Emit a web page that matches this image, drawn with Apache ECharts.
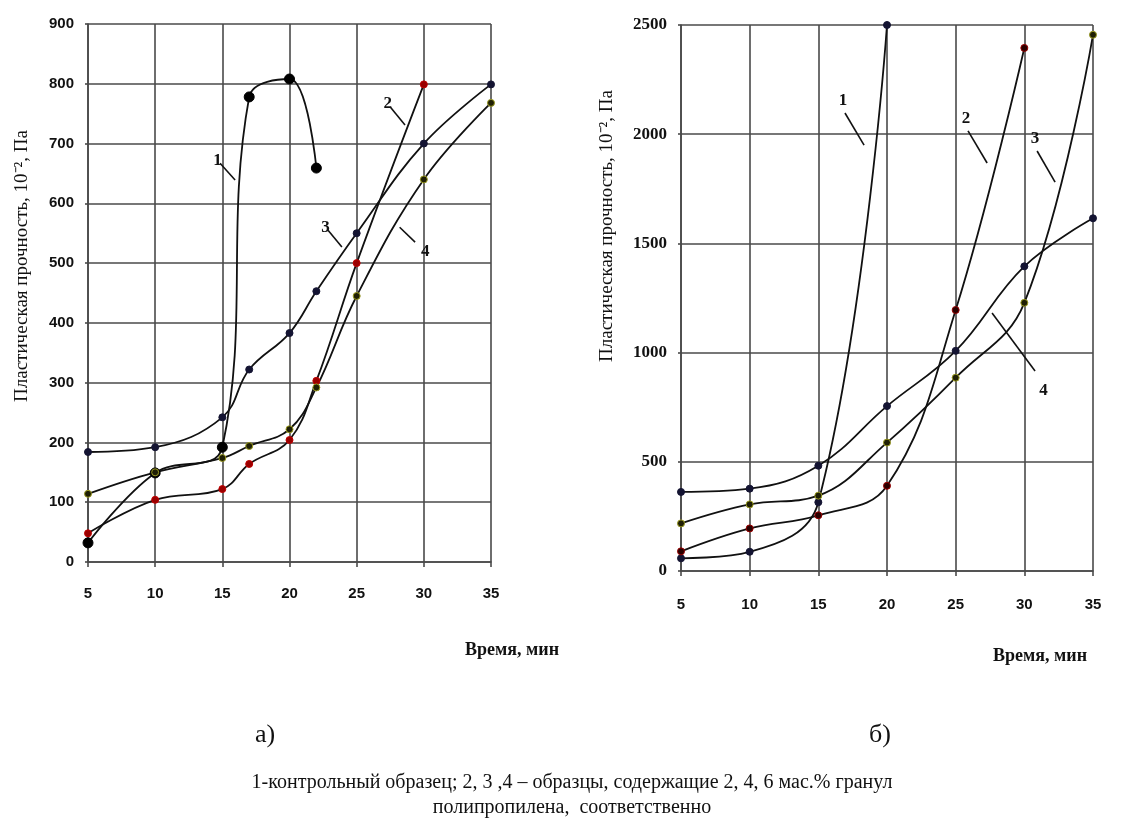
<!DOCTYPE html>
<html>
<head>
<meta charset="utf-8">
<script src="https://cdn.jsdelivr.net/npm/echarts@6/dist/echarts.min.js"></script>
<style>
  html, body { margin: 0; padding: 0; background: #fff; }
  #chart { width: 1144px; height: 827px; }
</style>
</head>
<body>
<div id="chart"></div>
<script>
// время, мин
const xTicks = [5, 10, 15, 20, 25, 30, 35];

// а) — левый график
const timeA1 = [5, 10, 15, 17, 20, 22];
const valsA1 = [32, 149, 192, 778, 808, 659];
const timeA = [5, 10, 15, 17, 20, 22, 25, 30, 35];
const valsA2 = [48, 104, 122, 164, 204, 303, 500, 799];
const valsA3 = [184, 192, 242, 322, 383, 453, 550, 700, 799];
const valsA4 = [114, 150, 174, 194, 222, 292, 445, 640, 768];

// б) — правый график
const timeB = [5, 10, 15, 20, 25, 30, 35];
const valsB1 = [58, 88, 315, 2500];
const valsB2 = [90, 195, 255, 390, 1195, 2395];
const valsB3 = [362, 377, 482, 755, 1008, 1395, 1615];
const valsB4 = [218, 305, 345, 588, 885, 1228, 2455];

const yTicksA = { min: 0, max: 900, interval: 100 };
const yTicksB = { min: 0, max: 2500, interval: 500 };

// выноски с номерами кривых: [номер, x1, y1, x2, y2, где подпись, отступ]
const leadersA = [
  ['1', 14.83, 667, 15.95, 639, 'start', 4],
  ['2', 27.5, 761, 28.6, 731, 'start', 4],
  ['3', 22.87, 555, 23.9, 527, 'start', 4],
  ['4', 28.2, 560, 29.35, 535, 'end', 14]
];
const leadersB = [
  ['1', 16.94, 2097, 18.33, 1950, 'start', 4],
  ['2', 25.9, 2015, 27.29, 1868, 'start', 4],
  ['3', 30.93, 1923, 32.24, 1781, 'start', 4],
  ['4', 27.65, 1181, 30.78, 916, 'end', 14]
];

const pairs = (xs, ys) => ys.map((v, i) => [xs[i], v]);

const gridColor = '#4a4a4a';
const tickFont = { fontFamily: 'Liberation Sans', fontWeight: 'bold', fontSize: 15, color: '#111' };

function xAxisFor(gridIndex, margin) {
  return {
    type: 'value', gridIndex, min: 5, max: 35, interval: 5,
    axisLine: { show: true, lineStyle: { color: gridColor, width: 1.6 } },
    axisTick: { show: true, length: 5, lineStyle: { color: gridColor, width: 1.6 } },
    axisLabel: Object.assign({ margin }, tickFont),
    splitLine: { show: true, lineStyle: { color: gridColor, width: 1.6 } }
  };
}
function yAxisFor(gridIndex, t, font) {
  return {
    type: 'value', gridIndex, min: t.min, max: t.max, interval: t.interval,
    axisLine: { show: true, lineStyle: { color: gridColor, width: 1.6 } },
    axisTick: { show: true, length: 3, lineStyle: { color: gridColor, width: 1.6 } },
    axisLabel: Object.assign({ margin: 14, formatter: v => String(v) }, font),
    splitLine: { show: true, lineStyle: { color: gridColor, width: 1.6 } }
  };
}

function markFor(l) {
  return {
    silent: true,
    symbol: ['none', 'none'],
    animation: false,
    lineStyle: { color: '#111', width: 1.6, type: 'solid' },
    label: { show: true, fontFamily: 'Liberation Serif', fontWeight: 'bold', fontSize: 17, color: '#111' },
    data: [[
      { coord: [l[1], l[2]], label: { position: l[5], formatter: l[0], distance: l[6] } },
      { coord: [l[3], l[4]] }
    ]]
  };
}

function curve(xi, yi, data, dotColor, dotBorder, size, lead) {
  return {
    type: 'line', xAxisIndex: xi, yAxisIndex: yi,
    data, smooth: 0.4,
    symbol: 'circle', symbolSize: size,
    showAllSymbol: true,
    lineStyle: { color: '#111', width: 1.8 },
    itemStyle: { color: dotColor, borderColor: dotBorder, borderWidth: 1 },
    z: 3,
    markLine: markFor(lead)
  };
}

const red = '#9a0000', navy = '#141432', olive = '#1f1f05';

const chart = echarts.init(document.getElementById('chart'));
chart.setOption({
  animation: false,
  backgroundColor: '#fff',
  grid: [
    { left: 88, top: 24, width: 403, height: 538 },
    { left: 681, top: 25, width: 412, height: 546 }
  ],
  xAxis: [xAxisFor(0, 24), xAxisFor(1, 26)],
  yAxis: [
    yAxisFor(0, yTicksA, tickFont),
    yAxisFor(1, yTicksB, { fontFamily: 'Liberation Serif', fontWeight: 'bold', fontSize: 17, color: '#111' })
  ],
  series: [
    curve(0, 0, pairs(timeA1, valsA1), '#000', '#000', 10, leadersA[0]),
    curve(0, 0, pairs(timeA, valsA2), red, '#c00000', 7, leadersA[1]),
    curve(0, 0, pairs(timeA, valsA3), navy, navy, 7, leadersA[2]),
    curve(0, 0, pairs(timeA, valsA4), olive, '#9a9a20', 7, leadersA[3]),
    curve(1, 1, pairs(timeB, valsB1), navy, navy, 7, leadersB[0]),
    curve(1, 1, pairs(timeB, valsB2), '#2a0000', red, 7, leadersB[1]),
    curve(1, 1, pairs(timeB, valsB4), olive, '#9a9a20', 7, leadersB[2]),
    curve(1, 1, pairs(timeB, valsB3), navy, navy, 7, leadersB[3])
  ],
  graphic: [
    { type: 'text', x: 22, y: 266, rotation: Math.PI / 2,
      style: { text: 'Пластическая прочность, 10⁻², Па', font: '19px "Liberation Serif"', fill: '#111', textAlign: 'center', textVerticalAlign: 'middle' } },
    { type: 'text', x: 607, y: 226, rotation: Math.PI / 2,
      style: { text: 'Пластическая прочность, 10⁻², Па', font: '19px "Liberation Serif"', fill: '#111', textAlign: 'center', textVerticalAlign: 'middle' } },
    { type: 'text', x: 512, y: 650,
      style: { text: 'Время, мин', font: 'bold 18px "Liberation Serif"', fill: '#111', textAlign: 'center', textVerticalAlign: 'middle' } },
    { type: 'text', x: 1040, y: 656,
      style: { text: 'Время, мин', font: 'bold 18px "Liberation Serif"', fill: '#111', textAlign: 'center', textVerticalAlign: 'middle' } },
    { type: 'text', x: 265, y: 735,
      style: { text: 'а)', font: '26px "Liberation Serif"', fill: '#111', textAlign: 'center', textVerticalAlign: 'middle' } },
    { type: 'text', x: 880, y: 735,
      style: { text: 'б)', font: '26px "Liberation Serif"', fill: '#111', textAlign: 'center', textVerticalAlign: 'middle' } },
    { type: 'text', x: 572, y: 783,
      style: { text: '1-контрольный образец; 2, 3 ,4 – образцы, содержащие 2, 4, 6 мас.% гранул', font: '20px "Liberation Serif"', fill: '#111', textAlign: 'center', textVerticalAlign: 'middle' } },
    { type: 'text', x: 572, y: 808,
      style: { text: 'полипропилена,  соответственно', font: '20px "Liberation Serif"', fill: '#111', textAlign: 'center', textVerticalAlign: 'middle' } }
  ]
});
</script>
</body>
</html>
